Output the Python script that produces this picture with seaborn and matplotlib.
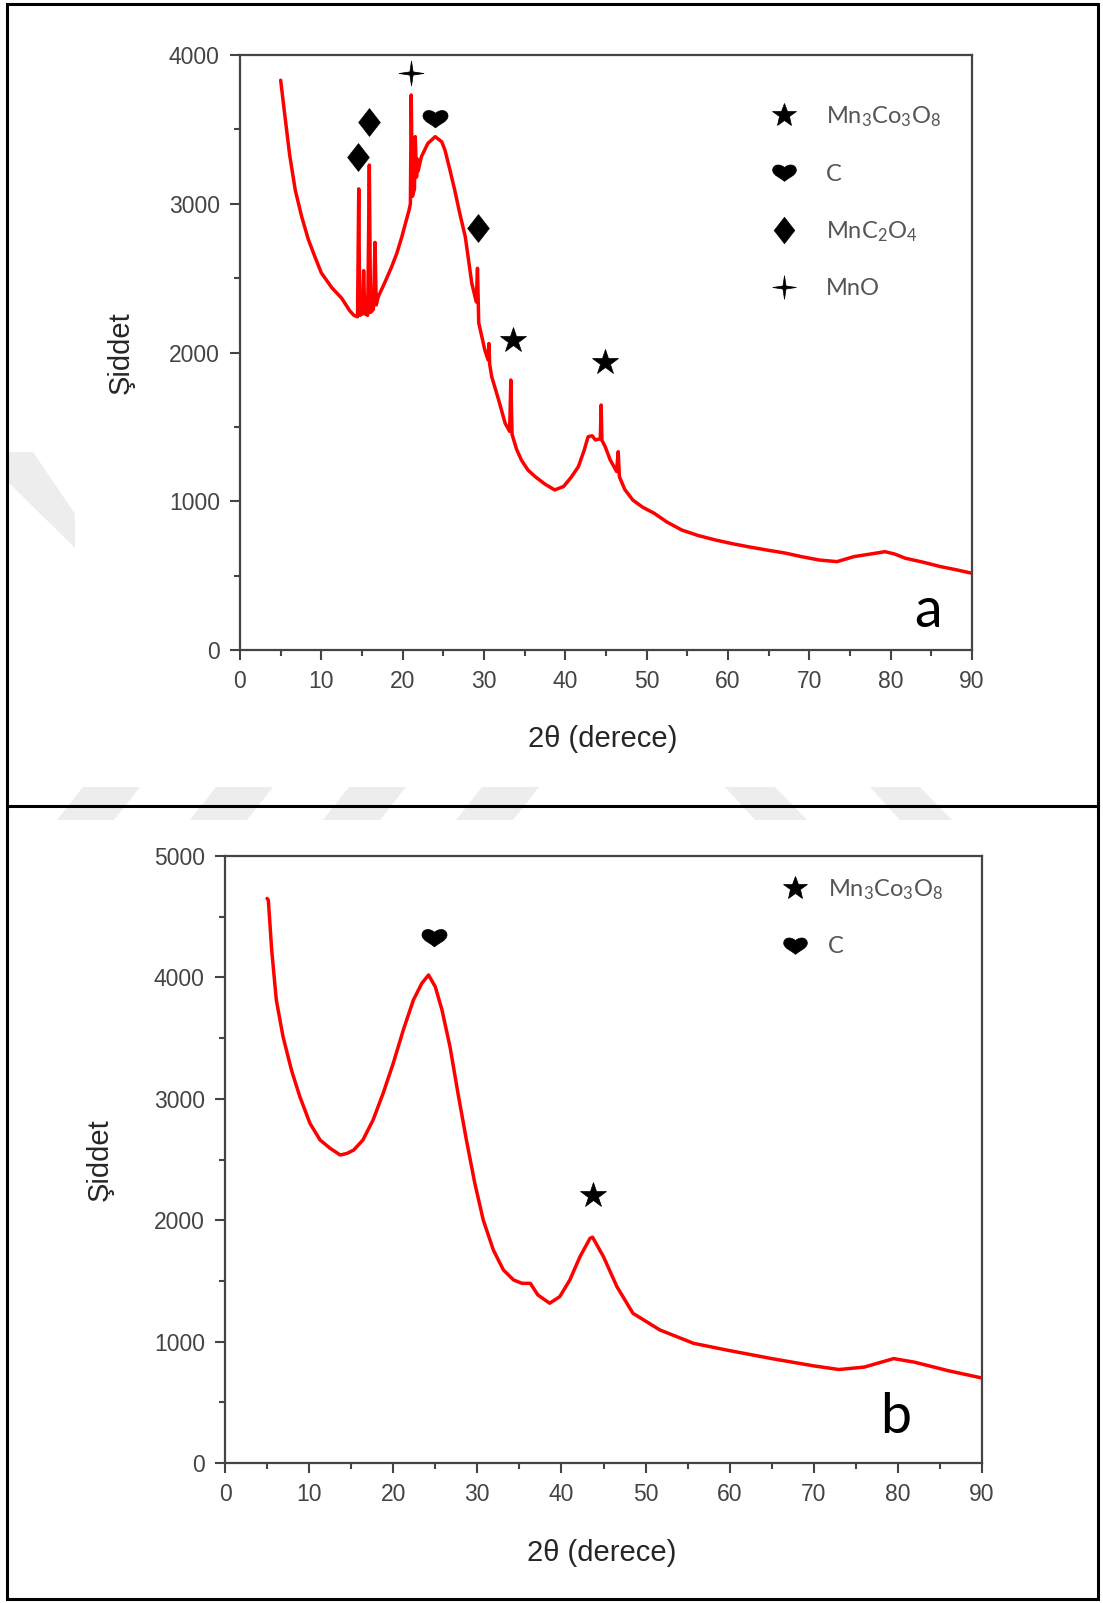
import numpy as np
import pandas as pd
import matplotlib
matplotlib.use("Agg")
import matplotlib.pyplot as plt
import seaborn as sns
from matplotlib.path import Path
from matplotlib.lines import Line2D
from matplotlib.patches import Polygon, Rectangle

# ---------------- data ----------------
a_x = [5.0, 5.5, 6.1, 6.8, 7.6, 8.4, 9.2, 10.0, 11.3, 12.5, 13.5, 14.0, 14.45, 14.6, 14.72,
       15.05, 15.2, 15.35, 15.7, 15.9, 16.05, 16.4, 16.6, 16.75, 17.0, 17.8, 18.65, 19.3,
       19.9, 20.4, 20.8, 20.95, 21.05, 21.2, 21.45, 21.55, 21.7, 21.8, 21.9, 22.3, 23.1,
       24.0, 24.8, 25.2, 25.8, 26.4, 27.0, 27.7, 28.5, 29.05, 29.2, 29.35, 30.1, 30.5, 30.6,
       30.7, 30.95, 31.8, 32.6, 33.15, 33.3, 33.45, 34.0, 34.6, 35.4, 36.3, 37.5, 38.7, 39.8,
       40.7, 41.6, 42.3, 42.8, 43.3, 43.7, 44.3, 44.4, 44.5, 44.9, 45.5, 46.3, 46.5, 46.65,
       47.3, 48.3, 49.5, 50.9, 52.5, 54.3, 56.3, 58.5, 60.5, 62.7, 65.0, 67.0, 69.0, 71.2,
       73.4, 75.5, 77.5, 79.3, 80.5, 81.8, 84.0, 86.1, 88.0, 89.9]
a_y = [3830, 3600, 3330, 3090, 2910, 2760, 2645, 2535, 2435, 2365, 2280, 2250, 2240, 3100, 2250,
       2260, 2550, 2260, 2250, 3260, 2270, 2290, 2740, 2320, 2375, 2470, 2577, 2670,
       2778, 2880, 2960, 3000, 3731, 3050, 3100, 3451, 3180, 3300, 3220, 3316, 3406,
       3451, 3417, 3361, 3230, 3092, 2940, 2778, 2465, 2340, 2566, 2200, 2017, 1950, 2060,
       1920, 1837, 1681, 1524, 1470, 1815, 1450, 1350, 1277, 1210, 1165, 1115, 1076, 1100,
       1160, 1232, 1340, 1434, 1440, 1412, 1420, 1647, 1410, 1367, 1280, 1200, 1333, 1165,
       1080, 1008, 960, 920, 860, 807, 770, 739, 715, 692, 670, 652, 628, 605,
       594, 628, 645, 661, 645, 617, 590, 561, 540, 517]

b_x = [5.0, 5.15, 5.55, 6.1, 6.9, 7.9, 8.9, 10.1, 11.3, 12.5, 13.7, 14.5, 15.3, 16.4, 17.6,
       18.8, 20.0, 21.2, 22.4, 23.4, 24.2, 25.0, 25.8, 26.75, 27.7, 28.7, 29.7, 30.7, 31.9,
       33.1, 34.3, 35.3, 36.3, 37.2, 38.6, 39.8, 41.0, 42.2, 43.4, 43.7, 45.0, 46.6, 48.5,
       51.7, 55.7, 59.6, 65.0, 70.0, 73.0, 76.0, 79.5, 82.0, 86.0, 90.0]
b_y = [4650, 4638, 4226, 3814, 3512, 3237, 3017, 2798, 2661, 2592, 2537, 2550, 2578, 2661, 2825,
       3045, 3292, 3567, 3814, 3951, 4020, 3923, 3731, 3429, 3045, 2661, 2304, 2002, 1755,
       1590, 1508, 1480, 1480, 1384, 1316, 1370, 1508, 1699, 1851, 1860, 1699, 1452, 1233,
       1096, 986, 931, 860, 800, 770, 790, 860, 830, 760, 700]

phases = ["Mn$_3$Co$_3$O$_8$", "C", "MnC$_2$O$_4$", "MnO"]
a_mark_phase = [2, 2, 3, 1, 2, 0, 0]
a_mark_x = [14.55, 15.9, 21.0, 24.0, 29.3, 33.6, 44.9]
a_mark_y = [3316, 3552, 3881, 3574, 2835, 2084, 1936]
b_mark_phase = [1, 0]
b_mark_x = [24.8, 43.8]
b_mark_y = [4335, 2208]

x_ticks = list(range(0, 91, 10))
a_y_ticks = [0, 1000, 2000, 3000, 4000]
b_y_ticks = [0, 1000, 2000, 3000, 4000, 5000]

# ---------------- marker shapes ----------------
M, L, C4, CP = Path.MOVETO, Path.LINETO, Path.CURVE4, Path.CLOSEPOLY
heart = Path([(0, -0.75), (-0.25, -0.5), (-1.0, -0.25), (-1.0, 0.2),
              (-1.0, 0.65), (-0.45, 0.8), (0, 0.42),
              (0.45, 0.8), (1.0, 0.65), (1.0, 0.2),
              (1.0, -0.25), (0.25, -0.5), (0, -0.75), (0, -0.75)],
             [M, C4, C4, C4, C4, C4, C4, C4, C4, C4, C4, C4, C4, CP])
diamond = Path([(0, 1), (0.78, 0), (0, -1), (-0.78, 0), (0, 1)], [M, L, L, L, CP])
sparkle = Path([(0, 1), (0.13, 0.13), (1, 0), (0.13, -0.13), (0, -1), (-0.13, -0.13),
                (-1, 0), (-0.13, 0.13), (0, 1)], [M, L, L, L, L, L, L, L, CP])
marker_shapes = ["*", heart, diamond, sparkle]
marker_sizes = [19, 18, 20, 18]

# ---------------- style ----------------
sns.set_style("white")
plt.rcParams["font.family"] = ["Liberation Sans", "DejaVu Sans"]
plt.rcParams["mathtext.fontset"] = "custom"
plt.rcParams["mathtext.rm"] = "Lato"
plt.rcParams["mathtext.default"] = "regular"

W, H = 1103, 1603
fig = plt.figure(figsize=(W / 100, H / 100), dpi=100)


def rect(l, t, r, b):
    return [l / W, 1 - b / H, (r - l) / W, (b - t) / H]


def fp(x, y):
    return (x / W, 1 - y / H)


# watermark bands (light grey)
wm = "#ededed"
bands = []
for x0 in [57, 190, 323, 456]:
    bands.append([(x0 + 26, 787), (x0 + 83, 787), (x0 + 57, 820), (x0, 820)])
for x0 in [725, 870]:
    bands.append([(x0, 787), (x0 + 50, 787), (x0 + 82, 820), (x0 + 30, 820)])
bands.append([(8, 452), (33, 452), (75, 514), (75, 548), (8, 482)])
for bnd in bands:
    fig.add_artist(Polygon([fp(*p) for p in bnd], closed=True, facecolor=wm,
                           edgecolor="none", transform=fig.transFigure, zorder=0))

# page frame
fig.add_artist(Rectangle(fp(7, 1599), (1098 - 7) / W, (1599 - 4) / H, fill=False,
                         edgecolor="black", lw=2.2, transform=fig.transFigure, zorder=1))
fig.add_artist(Line2D([7 / W, 1098 / W], [1 - 806 / H, 1 - 806 / H], color="black",
                      lw=2.2, transform=fig.transFigure, zorder=1))

ax_a = fig.add_axes(rect(240, 55, 972, 650))
ax_b = fig.add_axes(rect(225, 856, 982, 1463))

panels = [
    (ax_a, a_x, a_y, a_mark_phase, a_mark_x, a_mark_y, a_y_ticks, 4000, "a", 0.94, 0.038),
    (ax_b, b_x, b_y, b_mark_phase, b_mark_x, b_mark_y, b_y_ticks, 5000, "b", 0.886, 0.049),
]

for ax, xs, ys, mp, mx, my, yt, ymax, letter, lx, ly in panels:
    ax.patch.set_alpha(0)
    df = pd.DataFrame({"x": xs, "y": ys})
    sns.lineplot(data=df, x="x", y="y", ax=ax, color="#ff0000", lw=2.5,
                 estimator=None, sort=False)
    for ph, x, y in zip(mp, mx, my):
        ax.plot([x], [y], ls="none", marker=marker_shapes[ph], ms=marker_sizes[ph],
                color="black", mec="black", mew=0.5)
    ax.set_xlim(0, 90)
    ax.set_ylim(0, ymax)
    ax.set_xticks(x_ticks)
    ax.set_xticks([5 + 10 * i for i in range(9)], minor=True)
    ax.set_yticks(yt)
    ax.set_yticks([500 + 1000 * i for i in range(len(yt) - 1)], minor=True)
    ax.set_xlabel("")
    ax.set_ylabel("")
    for s in ax.spines.values():
        s.set_color("#444444")
        s.set_linewidth(1.6)
    ax.tick_params(which="major", direction="out", length=7.5, width=1.5, color="#444444",
                   labelsize=16.5, labelcolor="#444444", pad=7,
                   bottom=True, left=True, top=False, right=False)
    ax.tick_params(which="minor", direction="out", length=4.5, width=1.5, color="#444444",
                   bottom=True, left=True, top=False, right=False)
    ax.text(lx, ly, letter, transform=ax.transAxes,
            ha="center", va="baseline", fontsize=40, family="Lato", color="black")


def make_handles(idx):
    return [Line2D([], [], ls="none", marker=marker_shapes[i], ms=marker_sizes[i] - 1,
                   color="black", mec="black", mew=0.5) for i in idx]


leg_a = ax_a.legend(make_handles([0, 1, 2, 3]), phases, loc="upper left",
                    bbox_to_anchor=(0.711, 0.9166), frameon=False, borderaxespad=0,
                    borderpad=0, handlelength=2.0, handletextpad=0.78, labelspacing=1.46,
                    prop={"family": "Lato", "size": 17})
leg_b = ax_b.legend(make_handles([0, 1]), phases[:2], loc="upper left",
                    bbox_to_anchor=(0.722, 0.965), frameon=False, borderaxespad=0,
                    borderpad=0, handlelength=2.0, handletextpad=0.4, labelspacing=1.46,
                    prop={"family": "Lato", "size": 17})
for lg in (leg_a, leg_b):
    for t in lg.get_texts():
        t.set_color("#555555")

# axis titles
fig.text(*fp(603, 739), "2θ (derece)", ha="center", va="center", fontsize=21)
fig.text(*fp(121, 353), "Şiddet", ha="center", va="center", fontsize=21, rotation=90)
fig.text(*fp(602, 1553), "2θ (derece)", ha="center", va="center", fontsize=21)
fig.text(*fp(100, 1160), "Şiddet", ha="center", va="center", fontsize=21, rotation=90)

fig.savefig("out.png", dpi=100, facecolor="white")
